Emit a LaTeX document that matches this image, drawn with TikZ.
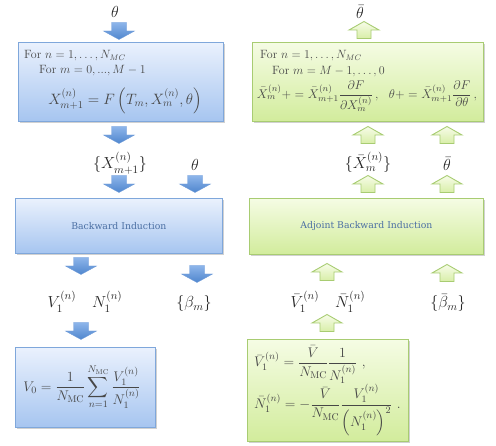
\RequirePackage{fix-cm}
\documentclass[tikz,border=0pt]{standalone}
\usepackage{amsmath}
\usepackage{fontspec}
\newfontfamily\slabfont{DejaVu Serif}
\usetikzlibrary{shadows}
\definecolor{bluetop}{HTML}{EAF1FD}
\definecolor{bluebot}{HTML}{A6C5F0}
\definecolor{blueedge}{HTML}{7FA7DB}
\definecolor{greentop}{HTML}{F5FCE4}
\definecolor{greenbot}{HTML}{D2EC9C}
\definecolor{greenedge}{HTML}{A8CC72}
\definecolor{arrowtop}{HTML}{8DB5EA}
\definecolor{arrowbot}{HTML}{4F86CE}
\definecolor{arrowedge}{HTML}{6F9BD8}
\definecolor{garrowtop}{HTML}{F7FCE8}
\definecolor{garrowbot}{HTML}{D8EEA8}
\definecolor{txtgray}{HTML}{474747}
\definecolor{labelblue}{HTML}{4B6FA3}
\begin{document}
\begin{tikzpicture}[x=1pt,y=-1pt,
  bluebox/.style={draw=blueedge, line width=0.8pt, top color=bluetop, bottom color=bluebot,
    drop shadow={shadow xshift=1.2pt, shadow yshift=-1.5pt, opacity=0.3, fill=black!60},
    anchor=north west, inner sep=0pt, text=labelblue, font=\slabfont\fontsize{9.3}{11}\selectfont},
  greenbox/.style={draw=greenedge, line width=0.8pt, top color=greentop, bottom color=greenbot,
    drop shadow={shadow xshift=1.2pt, shadow yshift=-1.5pt, opacity=0.3, fill=black!60},
    anchor=north west, inner sep=0pt, text=labelblue, font=\slabfont\fontsize{9.3}{11}\selectfont},
  inbox/.style={text=txtgray, inner sep=0pt, font=\fontsize{12}{14}\selectfont},
  bigmath/.style={text=txtgray, inner sep=0pt, font=\fontsize{14}{17}\selectfont},
  lbl/.style={text=black!85, inner sep=0pt, font=\fontsize{16}{19}\selectfont, anchor=base},
  darr/.pic={\path[draw=arrowedge, line width=0.4pt, top color=arrowtop, bottom color=arrowbot]
     (-7.5,-8.5) -- (7.5,-8.5) -- (7.5,0) -- (15.5,0) -- (0,8.5) -- (-15.5,0) -- (-7.5,0) -- cycle;},
  uarr/.pic={\path[draw=greenedge, line width=0.9pt, top color=garrowtop, bottom color=garrowbot]
     (-7,8.5) -- (7,8.5) -- (7,0) -- (15,0) -- (0,-8.5) -- (-15,0) -- (-7,0) -- cycle;}
]
\path[use as bounding box] (0,0) rectangle (496,446);

% boxes
\node[bluebox, minimum width=205pt, minimum height=79pt] (gen) at (18,42) {};
\node[greenbox, minimum width=231pt, minimum height=79pt] (adjgen) at (252,42) {};
\node[bluebox, minimum width=207pt, minimum height=55pt] (bi) at (15,198) {Backward Induction};
\node[greenbox, minimum width=234pt, minimum height=56pt] (abi) at (249,198) {Adjoint Backward Induction};
\node[bluebox, minimum width=140pt, minimum height=80pt] (val) at (15,347) {};
\node[greenbox, minimum width=161pt, minimum height=102pt] (adjval) at (247,339) {};

% texts in boxes
\node[inbox, anchor=base west] (g1) at (24,59) {For $n=1,\ldots,N_{MC}$};
\node[inbox, anchor=base west] (g2) at (39,74) {For $m=0,...,M-1$};
\node[bigmath, font=\fontsize{15}{18}\selectfont] (g3) at (125,101) {$X_{m+1}^{(n)} = F\left(T_m, X_m^{(n)}, \theta\right)$};

\node[inbox, anchor=base west] (a1) at (260,59) {For $n=1,\ldots,N_{MC}$};
\node[inbox, anchor=base west] (a2) at (272,75) {For $m=M-1,\ldots,0$};
\node[bigmath, font=\fontsize{12.6}{15}\selectfont] (a3) at (367,96) {$\bar X_m^{(n)}+=\bar X_{m+1}^{(n)}\dfrac{\partial F}{\partial X_m^{(n)}}\,,\ \ \theta+=\bar X_{m+1}^{(n)}\dfrac{\partial F}{\partial\theta}\,,$};

\node[bigmath] (v0) at (82,387) {$\displaystyle V_0=\frac{1}{N_{\mathrm{MC}}}\sum_{n=1}^{N_{\mathrm{MC}}}\frac{V_1^{(n)}}{N_1^{(n)}}$};

\node[bigmath, anchor=west] (vb) at (254,365) {$\displaystyle \bar V_1^{(n)} = \frac{\bar V}{N_{\mathrm{MC}}}\frac{1}{N_1^{(n)}}\ ,$};
\node[bigmath, anchor=west] (nb) at (254,410) {$\displaystyle \bar N_1^{(n)} = -\frac{\bar V}{N_{\mathrm{MC}}}\frac{V_1^{(n)}}{\left(N_1^{(n)}\right)^2}\ .$};

% outside labels
\node[lbl] (th0) at (115,18) {$\theta$};
\node[lbl] (thb0) at (360,19) {$\bar\theta$};
\node[lbl] (xs) at (120,169) {$\{X_{m+1}^{(n)}\}$};
\node[lbl] (th1) at (195,171) {$\theta$};
\node[lbl] (xbs) at (368,169) {$\{\bar X_m^{(n)}\}$};
\node[lbl] (thb1) at (447,171) {$\bar\theta$};
\node[lbl] (vn) at (85,308) {$V_1^{(n)}\quad N_1^{(n)}$};
\node[lbl] (beta) at (194,308) {$\{\beta_m\}$};
\node[lbl] (vnb) at (328,308) {$\bar V_1^{(n)}\quad \bar N_1^{(n)}$};
\node[lbl] (betab) at (448,308) {$\{\bar\beta_m\}$};

% block arrows
\pic at (119,31) {darr};
\pic at (119,135) {darr};
\pic at (119,184) {darr};
\pic at (195,184) {darr};
\pic at (81,266) {darr};
\pic at (197,274) {darr};
\pic at (81,331) {darr};
\pic at (364,30) {uarr};
\pic at (368,135) {uarr};
\pic at (447,135) {uarr};
\pic at (368,184) {uarr};
\pic at (447,184) {uarr};
\pic at (327,272) {uarr};
\pic at (447,273) {uarr};
\pic at (327,323) {uarr};
\end{tikzpicture}
\end{document}
